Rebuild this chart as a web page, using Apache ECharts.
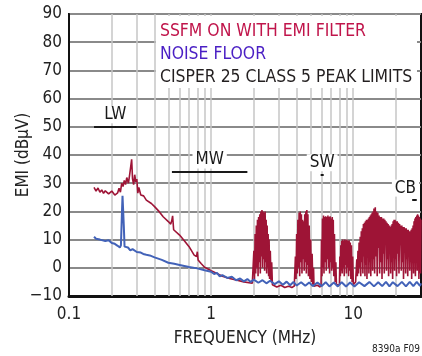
<!DOCTYPE html>
<html><head><meta charset="utf-8">
<script src="https://cdn.jsdelivr.net/npm/echarts@6/dist/echarts.min.js"></script>
<style>html,body{margin:0;padding:0;background:#fff}#c{width:422px;height:356px}</style>
</head><body><div id="c"></div>
<script>
// ---- DATA ----
const FONT = "'Liberation Sans Narrow','DejaVu Sans Condensed','Liberation Sans',sans-serif";
const yTicks = [-10, 0, 10, 20, 30, 40, 50, 60, 70, 80, 90];
const xTickLabels = [0.1, 1, 10];
const xGridFreqs = [0.2,0.3,0.4,0.5,0.6,0.7,0.8,0.9,1,2,3,4,5,6,7,8,9,10,20];

// SSFM ON WITH EMI FILTER (MHz, dBµV)
const ssfmLow = [
[0.150,28.5],[0.155,27.2],[0.160,28.3],[0.165,26.8],[0.170,27.6],[0.175,26.4],[0.180,27.3],[0.190,26.2],
[0.200,27.2],[0.210,25.8],[0.220,26.6],[0.225,28.2],[0.230,26.8],[0.235,30.0],[0.240,28.8],[0.245,31.0],
[0.250,29.5],[0.255,32.0],[0.262,30.0],[0.268,33.5],[0.272,36.0],[0.276,38.5],[0.280,31.5],[0.285,29.5],
[0.290,33.0],[0.295,30.5],[0.300,31.5],[0.305,26.5],[0.310,28.5],[0.320,25.8],[0.335,25.5],[0.350,24.0],
[0.380,22.8],[0.400,21.7],[0.430,20.0],[0.460,18.1],[0.500,16.4],[0.520,15.5],[0.530,17.0],[0.536,18.4],
[0.545,13.5],[0.560,13.0],[0.600,11.6],[0.650,9.5],[0.700,7.5],[0.760,4.5],[0.790,4.0],[0.800,5.7],
[0.810,2.8],[0.850,1.5],[0.900,0.2],[0.950,-0.4],[1.000,-1.0],[1.100,-2.0],[1.200,-3.0],[1.350,-3.8],
[1.500,-4.3],[1.700,-5.0],[1.950,-5.5]
];
const ssfmBurst1 = [
[1.99,-5.5],[2.00,6],[2.02,-4],[2.04,12],[2.06,-2],[2.08,15],[2.10,0],[2.12,17],[2.14,-3],[2.16,18],
[2.18,2],[2.20,19],[2.22,-2],[2.24,20],[2.26,4],[2.28,20.5],[2.30,0],[2.32,20],[2.34,3],[2.36,19.5],
[2.38,-1],[2.40,20],[2.42,2],[2.44,17],[2.46,-2],[2.48,15],[2.50,0],[2.52,12],[2.54,-3],[2.56,10],
[2.58,-4],[2.61,6],[2.64,-5],[2.67,2],[2.70,-6]
];
const ssfmGap1 = [[2.75,-6],[2.9,-6.8],[3.1,-6.2],[3.3,-7],[3.5,-6.5],[3.7,-7],[3.85,-6.5]];
const ssfmBurst2 = [
[3.88,-6],[3.92,4],[3.96,-4],[4.00,12],[4.04,-2],[4.08,17],[4.12,0],[4.16,19.5],[4.20,-3],[4.24,20],
[4.28,2],[4.32,19],[4.36,-2],[4.40,17],[4.44,3],[4.48,16.5],[4.52,-1],[4.56,19],[4.60,2],[4.64,20],
[4.68,-2],[4.72,20.5],[4.76,1],[4.80,19],[4.84,-3],[4.90,15],[4.96,-4],[5.02,10],[5.08,-5],[5.14,5],
[5.20,-6],[5.26,0],[5.30,-6.5]
];
const ssfmGap2 = [[5.4,-6.8],[5.6,-6.2],[5.85,-6.8]];
const ssfmBurst3 = [
[5.94,-6],[5.98,10],[6.03,-3],[6.08,17.5],[6.13,0],[6.18,18.5],[6.23,-2],[6.28,18],[6.34,2],[6.40,18.3],
[6.46,-1],[6.52,18],[6.58,3],[6.64,18.5],[6.70,0],[6.76,18],[6.82,-2],[6.88,18.3],[6.94,2],[7.00,17.5],
[7.06,-1],[7.12,18],[7.18,0],[7.24,17],[7.30,-3],[7.38,12],[7.46,-5],[7.55,2],[7.62,-6]
];
const ssfmGap3 = [[7.7,-6.5],[7.85,-6]];
const ssfmBurst4 = [
[8.00,-6],[8.06,4],[8.12,-3],[8.18,8],[8.24,-1],[8.30,9.5],[8.37,-2],[8.44,10],[8.51,0],[8.58,9.5],
[8.65,-3],[8.72,10],[8.80,1],[8.88,9.8],[8.96,-2],[9.04,10],[9.12,0],[9.20,9.5],[9.28,-3],[9.36,9.8],
[9.45,-1],[9.54,9],[9.63,-4],[9.72,8],[9.82,-5],[9.92,4],[10.02,-6]
];
const ssfmGap4 = [[10.2,-6],[10.4,-5]];
const ssfmBand = [
[10.5,-5],[10.6,3],[10.7,-3],[10.8,6],[10.9,-2],[11.0,9],[11.1,0],[11.2,11],[11.3,-3],[11.4,13],
[11.5,2],[11.6,14],[11.7,-2],[11.8,15.5],[11.9,4],[12.0,16],[12.1,-3],[12.2,16.5],[12.3,1],[12.4,17],
[12.5,-4],[12.6,17],[12.7,5],[12.8,17.5],[12.9,-2],[13.0,18],[13.1,2],[13.2,18.5],[13.3,-3],[13.4,19],
[13.5,6],[13.6,19.5],[13.7,-1],[13.8,20],[13.9,3],[14.0,21],[14.15,-2],[14.3,21.5],[14.45,4],[14.6,20],
[14.75,-3],[14.9,19.5],[15.05,7],[15.2,18.5],[15.35,-2],[15.5,18],[15.65,2],[15.8,18],[15.95,-4],[16.1,17.5],
[16.25,5],[16.4,17.5],[16.55,-2],[16.7,17],[16.85,9],[17.0,16.5],[17.15,-1],[17.3,16],[17.45,3],[17.6,15.5],
[17.75,-3],[17.9,15],[18.05,6],[18.2,14.5],[18.35,-2],[18.5,15],[18.65,2],[18.8,15.5],[18.95,-4],[19.1,16.5],
[19.25,7],[19.4,17],[19.55,-1],[19.7,17],[19.85,3],[20.0,16.5],[20.2,-3],[20.4,16.5],[20.6,5],[20.8,16],
[21.0,-2],[21.2,15.5],[21.4,8],[21.6,15],[21.8,-1],[22.0,15],[22.2,2],[22.4,14.5],[22.6,-4],[22.8,14.5],
[23.0,6],[23.2,14],[23.4,-2],[23.6,14],[23.8,3],[24.0,13.5],[24.2,-3],[24.4,13.5],[24.6,7],[24.8,13],
[25.0,-1],[25.2,13],[25.4,2],[25.6,13.5],[25.8,-4],[26.0,14],[26.2,5],[26.4,15],[26.6,-2],[26.8,16.5],
[27.0,3],[27.2,17.5],[27.4,-3],[27.6,18],[27.8,6],[28.0,18.5],[28.2,-1],[28.4,19],[28.6,2],[28.8,18.5],
[29.0,-4],[29.2,18],[29.4,5],[29.6,17.5],[29.8,-2],[30.0,17]
];

// NOISE FLOOR (MHz, dBµV)
const noiseFloor = [
[0.150,11.0],[0.155,10.3],[0.160,10.8],[0.165,10.0],[0.170,10.4],[0.180,9.5],[0.190,9.8],[0.200,8.8],
[0.210,8.5],[0.220,7.8],[0.228,7.2],[0.232,8.0],[0.236,20],[0.238,25.5],[0.241,26],[0.243,15],[0.246,7.5],
[0.250,6.8],[0.260,7.2],[0.270,6.2],[0.280,6.6],[0.300,5.6],[0.320,5.4],[0.333,4.9],[0.340,5.6],[0.350,4.6],
[0.370,4.4],[0.400,3.7],[0.450,2.8],[0.500,1.8],[0.550,1.4],[0.600,1.0],[0.700,0.3],[0.800,-0.2],[0.900,-0.9],
[1.0,-1.4],[1.05,-2.2],[1.1,-1.8],[1.15,-3.0],[1.2,-2.6],[1.3,-3.6],[1.4,-3.2],[1.5,-4.4],[1.6,-3.8],[1.7,-4.8],
[1.8,-4.0],[1.9,-5.0],[2.0,-4.2],[2.15,-5.3],[2.3,-4.4],[2.45,-5.5],[2.6,-4.6],[2.8,-5.8],[3.0,-4.8],[3.2,-6.0],
[3.4,-4.9],[3.6,-6.2],[3.8,-5.0],[4.0,-6.3],[4.3,-5.1],[4.6,-6.4],[4.9,-5.2],[5.2,-6.5],[5.6,-5.2],[6.0,-6.5],
[6.4,-5.1],[6.8,-6.6],[7.3,-5.2],[7.8,-6.6],[8.3,-5.1],[8.9,-6.6],[9.5,-5.2],[10.2,-6.6],[11,-5.1],[12,-6.5],
[13,-5.0],[14,-6.6],[15,-5.1],[16,-6.5],[17,-5.0],[18,-6.6],[19,-5.1],[20.5,-6.5],[22,-5.0],[23.5,-6.6],
[25,-5.0],[26.5,-6.5],[28,-5.0],[29.5,-6.4],[30,-5.5]
];

// CISPR 25 class 5 peak limits
const limitNames = ['LW', 'MW', 'SW', 'CB'];
const limitStart = [0.15, 0.53, 5.9, 26];
const limitEnd   = [0.30, 1.8, 6.2, 28];
const limitLevel = [50, 34, 33, 24];

const legendTexts = ['SSFM ON WITH EMI FILTER', 'NOISE FLOOR', 'CISPER 25 CLASS 5 PEAK LIMITS'];
const legendColors = ['#c0154b', '#4a1fc4', '#231f20'];

// ---- CHART ----
const ssfm = [].concat(ssfmLow, ssfmBurst1, ssfmGap1, ssfmBurst2, ssfmGap2, ssfmBurst3, ssfmGap3, ssfmBurst4, ssfmGap4, ssfmBand);
const chart = echarts.init(document.getElementById('c'), null, {renderer: 'canvas'});
const labelOffsets = {CB: [-9, 0]};
const legendGraphics = legendTexts.map((t, i) => ({
  type: 'text', left: 160, top: 23 + i * 23, z: 11, silent: true,
  style: {text: t, fill: legendColors[i], font: '17.4px ' + FONT}
}));
const limitLabelGraphics = [];
chart.setOption({
  animation: false,
  backgroundColor: '#fff',
  grid: {left: 69, right: 1, top: 14, bottom: 60, outerBoundsMode: 'none', containLabel: false,
    show: true, borderColor: '#111', borderWidth: 2, backgroundColor: 'transparent'},
  xAxis: {
    type: 'log', logBase: 10, min: 0.1, max: 30,
    name: 'FREQUENCY (MHz)', nameLocation: 'middle', nameGap: 34,
    nameTextStyle: {fontFamily: FONT, fontSize: 17, color: '#222'},
    axisLine: {onZero: false, lineStyle: {color: '#111', width: 3}},
    axisTick: {show: false},
    splitLine: {show: false},
    axisLabel: {fontFamily: FONT, fontSize: 17, color: '#222', margin: 10,
      formatter: v => { const m = xTickLabels.find(t => Math.abs(t - v) < 1e-6 * t); return m === undefined ? '' : String(m); }}
  },
  yAxis: {
    type: 'value', min: yTicks[0], max: yTicks[yTicks.length - 1], interval: 10,
    name: 'EMI (dBµV)', nameLocation: 'middle', nameGap: 37, nameMoveOverlap: false,
    nameTextStyle: {fontFamily: FONT, fontSize: 17, color: '#222'},
    axisLine: {show: true, onZero: false, lineStyle: {color: '#111', width: 2}},
    axisTick: {show: false},
    splitLine: {lineStyle: {color: '#8a8a8a', width: 2}},
    axisLabel: {fontFamily: FONT, fontSize: 17, color: '#222', margin: 7,
      formatter: v => String(v).replace('-', '\u2212')}
  },
  graphic: [
    {type: 'rect', shape: {x: 156, y: 16, width: 261, height: 72}, style: {fill: '#fff'}, z: 10, silent: true}
  ].concat(legendGraphics, [
    {type: 'text', right: 2, bottom: 2, z: 11, silent: true, style: {text: '8390a F09', fill: '#222', font: '10px ' + FONT}}
  ]),
  series: [
    {
      type: 'line', data: [[0.1, -10]], showSymbol: false, lineStyle: {opacity: 0}, silent: true, z: 1,
      markLine: {silent: true, symbol: 'none', label: {show: false}, animation: false,
        lineStyle: {color: '#c6c6c6', width: 1.5, type: 'solid'},
        data: xGridFreqs.map(f => ({xAxis: f}))}
    },
    {
      type: 'line', data: ssfm, showSymbol: false, z: 6,
      lineStyle: {color: '#9e1436', width: 1.6}
    },
    {
      type: 'line', data: noiseFloor, showSymbol: false, z: 7,
      lineStyle: {color: '#4262b8', width: 2}
    },
    {
      type: 'line', data: [[0.1, -10]], showSymbol: false, lineStyle: {opacity: 0}, silent: true, z: 8,
      markLine: {silent: true, symbol: 'none', label: {show: false}, animation: false, z: 8,
        lineStyle: {color: '#1a1a1a', width: 2, type: 'solid'},
        data: limitNames.map((n, i) => [{coord: [limitStart[i], limitLevel[i]]}, {coord: [limitEnd[i], limitLevel[i]]}])}
    },
    {
      type: 'scatter', symbolSize: 1, z: 9, silent: true,
      itemStyle: {color: '#111', opacity: 1},
      data: limitNames.map((n, i) => ({
        name: n, value: [Math.sqrt(limitStart[i] * limitEnd[i]), limitLevel[i]],
        label: {offset: labelOffsets[n] || [0, 0]}
      })),
      label: {show: true, position: 'top', distance: 3, formatter: p => p.name, opacity: 1,
        fontFamily: FONT, fontSize: 17, color: '#1a1a1a', textBorderWidth: 0,
        backgroundColor: '#fff', padding: [0, 3]}
    }
  ]
});
</script></body></html>
